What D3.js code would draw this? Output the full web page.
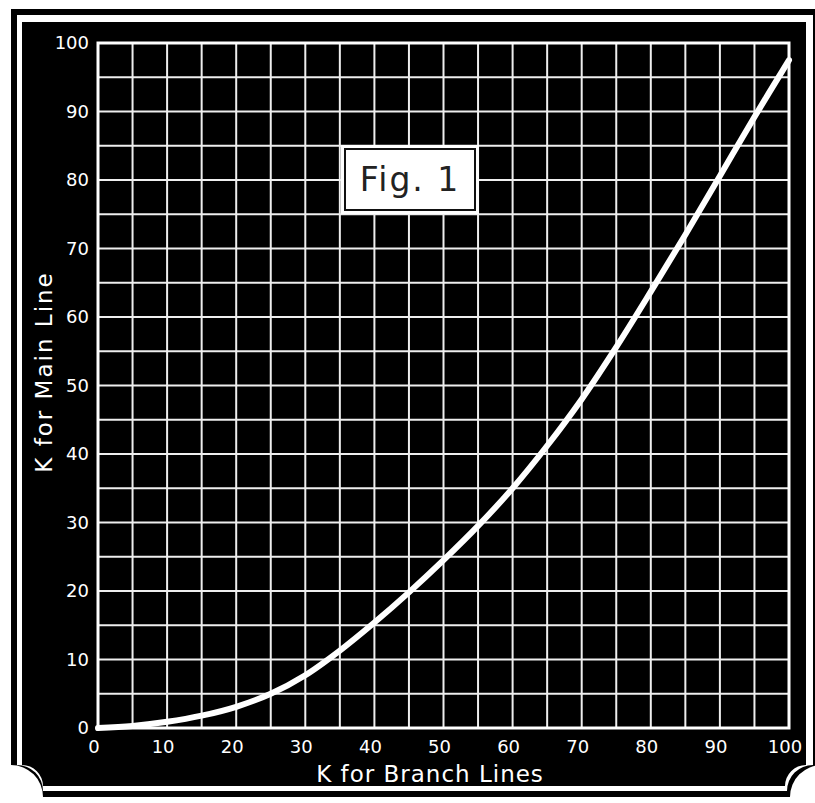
<!DOCTYPE html>
<html>
<head>
<meta charset="utf-8">
<script src="https://cdn.jsdelivr.net/npm/d3@7"></script>
<style>
  html, body { margin: 0; padding: 0; background: #fff; }
  svg { display: block; }
</style>
</head>
<body>
<svg width="815" height="803"></svg>
<script>
// K for branch lines (x) vs K for main line (y)
const branchK = [0, 5, 10, 15, 20, 25, 30, 35, 40, 45, 50, 55, 60, 65, 70, 75, 80, 85, 90, 95, 100];
const mainK   = [0, 0.3, 0.9, 1.8, 3.1, 5, 7.7, 11.3, 15.4, 19.8, 24.5, 29.5, 35, 41.2, 48, 55.6, 63.7, 72, 80.6, 89.2, 97.5];

const tickLabels = [0, 10, 20, 30, 40, 50, 60, 70, 80, 90, 100];
const gridValues = [0, 5, 10, 15, 20, 25, 30, 35, 40, 45, 50, 55, 60, 65, 70, 75, 80, 85, 90, 95, 100];

const svg = d3.select('svg');
const font = "'DejaVu Sans', sans-serif";

// frame with concave bottom corners
function notched(x0, y0, x1, y1, r) {
    return `M${x0},${y0}H${x1}V${y1 - r}A${r},${r} 0 0 0 ${x1 - r},${y1}H${x0 + r}A${r},${r} 0 0 0 ${x0},${y1 - r}Z`;
}
svg.append('path').attr('d', notched(11, 9, 822, 797, 32)).attr('fill', '#000');
svg.append('path').attr('d', notched(17, 15, 813, 791, 26)).attr('fill', '#fff');
svg.append('path').attr('d', notched(22, 22, 806, 786, 21)).attr('fill', '#000');

const x = d3.scaleLinear().domain([0, 100]).range([98, 789]);
const y = d3.scaleLinear().domain([0, 100]).range([728, 43]);

const g = svg.append('g');

// grid
g.append('g')
    .selectAll('line')
    .data(gridValues)
    .enter()
    .append('line')
    .attr('x1', d => x(d)).attr('x2', d => x(d))
    .attr('y1', y(0)).attr('y2', y(100))
    .attr('stroke', '#eeeeee')
    .attr('stroke-width', 2);

g.append('g')
    .selectAll('line')
    .data(gridValues)
    .enter()
    .append('line')
    .attr('y1', d => y(d)).attr('y2', d => y(d))
    .attr('x1', x(0)).attr('x2', x(100))
    .attr('stroke', '#eeeeee')
    .attr('stroke-width', 2);

g.append('rect')
    .attr('x', x(0)).attr('y', y(100))
    .attr('width', x(100) - x(0)).attr('height', y(0) - y(100))
    .attr('fill', 'none')
    .attr('stroke', '#fff')
    .attr('stroke-width', 3);

// tick labels
g.append('g')
    .selectAll('text')
    .data(tickLabels)
    .enter()
    .append('text')
    .attr('x', 89)
    .attr('y', d => y(d))
    .attr('dy', '0.35em')
    .attr('text-anchor', 'end')
    .attr('font-family', font)
    .attr('font-size', 18)
    .attr('fill', '#fff')
    .text(d => d);

g.append('g')
    .selectAll('text')
    .data(tickLabels)
    .enter()
    .append('text')
    .attr('x', d => x(d) - 4)
    .attr('y', 753)
    .attr('text-anchor', 'middle')
    .attr('font-family', font)
    .attr('font-size', 18)
    .attr('fill', '#fff')
    .text(d => d);

// axis titles
svg.append('text')
    .attr('x', 430).attr('y', 782)
    .attr('text-anchor', 'middle')
    .attr('font-family', font)
    .attr('font-size', 23)
    .attr('letter-spacing', 1)
    .attr('fill', '#fff')
    .text('K for Branch Lines');

svg.append('text')
    .attr('transform', 'translate(52,372) rotate(-90)')
    .attr('text-anchor', 'middle')
    .attr('font-family', font)
    .attr('font-size', 23)
    .attr('letter-spacing', 2)
    .attr('fill', '#fff')
    .text('K for Main Line');

// the curve
const line = d3.line()
    .curve(d3.curveCatmullRom)
    .x((d, i) => x(d))
    .y((d, i) => y(mainK[i]));

g.append('path')
    .attr('d', line(branchK))
    .attr('fill', 'none')
    .attr('stroke', '#fff')
    .attr('stroke-width', 6)
    .attr('stroke-linecap', 'round');

// Fig. 1 label box
svg.append('rect')
    .attr('x', 341).attr('y', 145)
    .attr('width', 138).attr('height', 69)
    .attr('fill', '#fff');
svg.append('rect')
    .attr('x', 345).attr('y', 149)
    .attr('width', 130).attr('height', 61)
    .attr('fill', 'none')
    .attr('stroke', '#111')
    .attr('stroke-width', 2);
svg.append('text')
    .attr('x', 410).attr('y', 191)
    .attr('text-anchor', 'middle')
    .attr('font-family', font)
    .attr('font-size', 33)
    .attr('letter-spacing', 2)
    .attr('fill', '#222')
    .text('Fig. 1');
</script>
</body>
</html>
